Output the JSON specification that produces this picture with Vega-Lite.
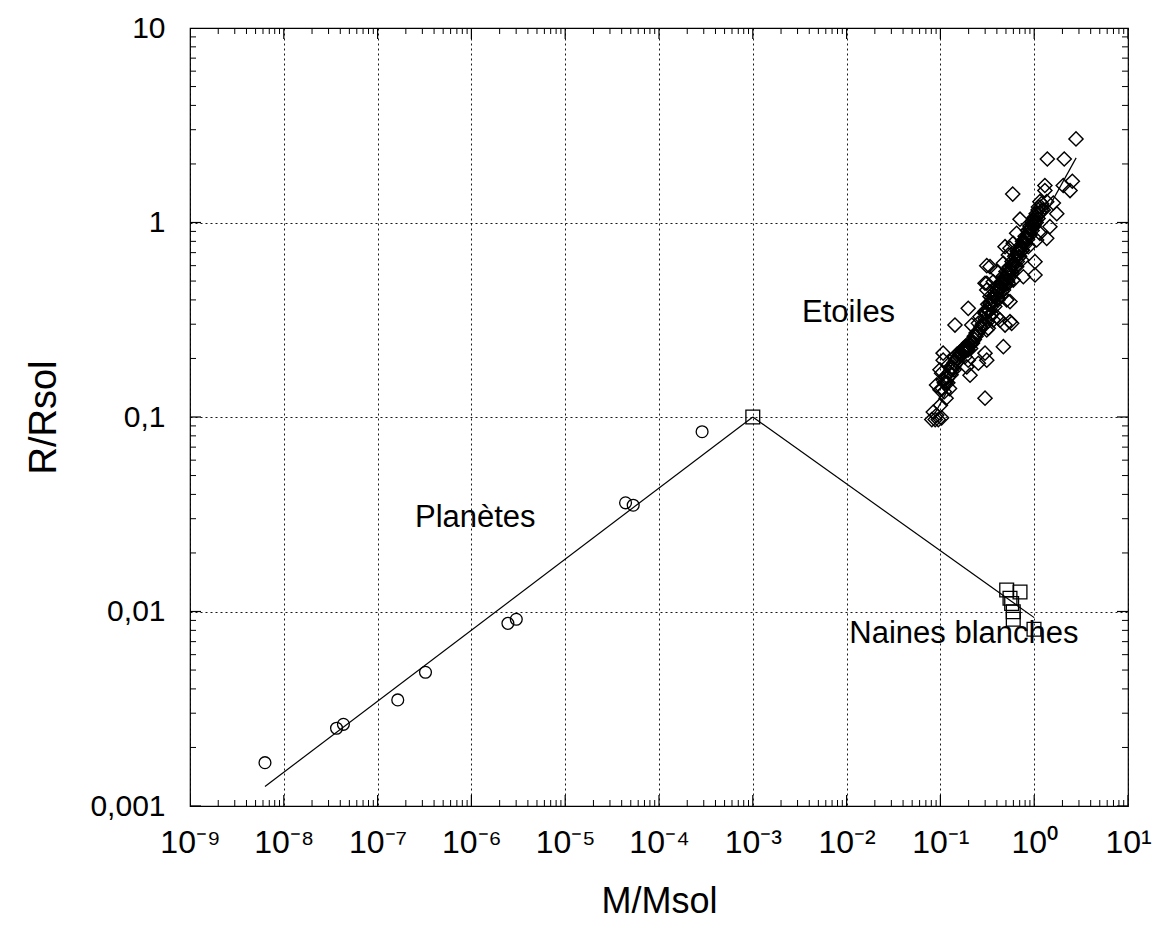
{
  "$schema": "https://vega.github.io/schema/vega-lite/v6.json",
  "width": 938,
  "height": 778,
  "autosize": {"type": "none"},
  "padding": {"left": 190, "top": 28, "right": 32, "bottom": 131},
  "background": "#ffffff",
  "config": {
    "view": {"stroke": "#000000", "strokeWidth": 1.2},
    "font": "Liberation Sans",
    "axis": {"labelFont": "Liberation Sans", "titleFont": "Liberation Sans", "labelColor": "#000", "titleColor": "#000", "tickColor": "#000", "titleFontWeight": "normal"}
  },
  "datasets": {
    "planets": [
      {"M": 6.3e-9, "R": 0.00167},
      {"M": 3.65e-8, "R": 0.00251},
      {"M": 4.32e-8, "R": 0.00263},
      {"M": 1.64e-7, "R": 0.00351},
      {"M": 3.24e-7, "R": 0.00487},
      {"M": 2.45e-6, "R": 0.00869},
      {"M": 3.01e-6, "R": 0.00912},
      {"M": 4.40e-5, "R": 0.0362},
      {"M": 5.31e-5, "R": 0.0352},
      {"M": 2.88e-4, "R": 0.0840}
    ],
    "dwarfs": [
      {"M": 0.001, "R": 0.1},
      {"M": 0.509, "R": 0.0129},
      {"M": 0.706, "R": 0.0126},
      {"M": 0.552, "R": 0.0117},
      {"M": 0.575, "R": 0.0110},
      {"M": 0.598, "R": 0.00998},
      {"M": 0.598, "R": 0.00912},
      {"M": 0.995, "R": 0.0081}
    ],
    "stars": [
      {"M": 0.084, "R": 0.106}, {"M": 0.081, "R": 0.097}, {"M": 0.095, "R": 0.097}, {"M": 0.103, "R": 0.099}, {"M": 0.091, "R": 0.102}, {"M": 0.088, "R": 0.097},
      {"M": 0.091, "R": 0.146}, {"M": 0.099, "R": 0.138}, {"M": 0.107, "R": 0.155}, {"M": 0.112, "R": 0.161}, {"M": 0.103, "R": 0.168}, {"M": 0.099, "R": 0.175},
      {"M": 0.107, "R": 0.196}, {"M": 0.107, "R": 0.213}, {"M": 0.121, "R": 0.185}, {"M": 0.132, "R": 0.181}, {"M": 0.143, "R": 0.204}, {"M": 0.162, "R": 0.208},
      {"M": 0.175, "R": 0.217}, {"M": 0.191, "R": 0.230}, {"M": 0.216, "R": 0.239}, {"M": 0.198, "R": 0.196}, {"M": 0.191, "R": 0.181}, {"M": 0.207, "R": 0.164},
      {"M": 0.254, "R": 0.189}, {"M": 0.299, "R": 0.213}, {"M": 0.312, "R": 0.196}, {"M": 0.198, "R": 0.221}, {"M": 0.183, "R": 0.204}, {"M": 0.299, "R": 0.125},
      {"M": 0.469, "R": 0.230},
      {"M": 0.143, "R": 0.297}, {"M": 0.198, "R": 0.362}, {"M": 0.216, "R": 0.297}, {"M": 0.254, "R": 0.303}, {"M": 0.264, "R": 0.328}, {"M": 0.299, "R": 0.341},
      {"M": 0.338, "R": 0.328}, {"M": 0.366, "R": 0.315}, {"M": 0.398, "R": 0.328}, {"M": 0.312, "R": 0.280}, {"M": 0.324, "R": 0.286}, {"M": 0.432, "R": 0.315},
      {"M": 0.489, "R": 0.297}, {"M": 0.575, "R": 0.303}, {"M": 0.552, "R": 0.309},
      {"M": 0.338, "R": 0.384}, {"M": 0.312, "R": 0.450}, {"M": 0.312, "R": 0.487}, {"M": 0.338, "R": 0.416}, {"M": 0.398, "R": 0.450}, {"M": 0.432, "R": 0.487},
      {"M": 0.469, "R": 0.516}, {"M": 0.530, "R": 0.487}, {"M": 0.509, "R": 0.400}, {"M": 0.552, "R": 0.392}, {"M": 1.02, "R": 0.537},
      {"M": 2.79, "R": 2.69}, {"M": 1.38, "R": 2.12}, {"M": 2.09, "R": 2.12}, {"M": 2.55, "R": 1.63}, {"M": 2.04, "R": 1.55}, {"M": 2.41, "R": 1.46},
      {"M": 0.590, "R": 1.40}, {"M": 1.30, "R": 1.55}, {"M": 1.30, "R": 1.46}, {"M": 1.15, "R": 1.28}, {"M": 1.36, "R": 1.28}, {"M": 1.60, "R": 1.26},
      {"M": 1.74, "R": 1.11}, {"M": 1.11, "R": 1.20}, {"M": 1.25, "R": 1.16}, {"M": 0.706, "R": 1.04}, {"M": 1.47, "R": 0.952}, {"M": 1.36, "R": 0.829},
      {"M": 0.978, "R": 1.03}, {"M": 0.902, "R": 0.915}, {"M": 0.832, "R": 0.845}, {"M": 0.650, "R": 0.880}, {"M": 0.598, "R": 0.782}, {"M": 0.552, "R": 0.737},
      {"M": 0.530, "R": 0.681}, {"M": 0.489, "R": 0.751}, {"M": 0.706, "R": 0.737}, {"M": 0.865, "R": 0.751}, {"M": 1.06, "R": 0.813}, {"M": 1.15, "R": 0.880},
      {"M": 1.02, "R": 0.629},
      {"M": 0.312, "R": 0.600}, {"M": 0.338, "R": 0.593}, {"M": 0.398, "R": 0.559}, {"M": 0.469, "R": 0.617}, {"M": 0.650, "R": 0.593}, {"M": 0.736, "R": 0.642},
      {"M": 0.299, "R": 0.487}, {"M": 0.366, "R": 0.496}, {"M": 0.469, "R": 0.487}, {"M": 0.598, "R": 0.506}, {"M": 0.766, "R": 0.526},
      {"M": 0.15, "R": 0.20}, {"M": 0.16, "R": 0.21}, {"M": 0.17, "R": 0.22}, {"M": 0.18, "R": 0.215}, {"M": 0.19, "R": 0.225}, {"M": 0.20, "R": 0.23},
      {"M": 0.21, "R": 0.225}, {"M": 0.22, "R": 0.245}, {"M": 0.23, "R": 0.25}, {"M": 0.24, "R": 0.26}, {"M": 0.26, "R": 0.28}, {"M": 0.28, "R": 0.30},
      {"M": 0.30, "R": 0.32}, {"M": 0.31, "R": 0.34}, {"M": 0.32, "R": 0.36}, {"M": 0.33, "R": 0.35}, {"M": 0.34, "R": 0.38}, {"M": 0.35, "R": 0.37},
      {"M": 0.36, "R": 0.40}, {"M": 0.37, "R": 0.39}, {"M": 0.38, "R": 0.42}, {"M": 0.40, "R": 0.43}, {"M": 0.41, "R": 0.41}, {"M": 0.42, "R": 0.45},
      {"M": 0.44, "R": 0.46}, {"M": 0.45, "R": 0.44}, {"M": 0.46, "R": 0.49}, {"M": 0.48, "R": 0.50}, {"M": 0.50, "R": 0.52}, {"M": 0.52, "R": 0.50},
      {"M": 0.53, "R": 0.55}, {"M": 0.55, "R": 0.57}, {"M": 0.57, "R": 0.56}, {"M": 0.58, "R": 0.60}, {"M": 0.60, "R": 0.62}, {"M": 0.62, "R": 0.61},
      {"M": 0.64, "R": 0.66}, {"M": 0.66, "R": 0.68}, {"M": 0.68, "R": 0.66}, {"M": 0.70, "R": 0.72}, {"M": 0.72, "R": 0.74}, {"M": 0.74, "R": 0.72},
      {"M": 0.76, "R": 0.78}, {"M": 0.78, "R": 0.80}, {"M": 0.80, "R": 0.79}, {"M": 0.82, "R": 0.84}, {"M": 0.85, "R": 0.86}, {"M": 0.88, "R": 0.88},
      {"M": 0.90, "R": 0.92}, {"M": 0.93, "R": 0.94}, {"M": 0.96, "R": 0.97}, {"M": 1.00, "R": 1.00}, {"M": 1.03, "R": 1.02}, {"M": 1.06, "R": 1.07},
      {"M": 1.10, "R": 1.10}, {"M": 1.14, "R": 1.12}, {"M": 1.18, "R": 1.20}, {"M": 0.11, "R": 0.135}, {"M": 0.12, "R": 0.15}, {"M": 0.13, "R": 0.165},
      {"M": 0.14, "R": 0.175}, {"M": 0.115, "R": 0.125}, {"M": 0.125, "R": 0.14}, {"M": 0.10, "R": 0.115},
      {"M": 0.105, "R": 0.14}, {"M": 0.11, "R": 0.15}, {"M": 0.115, "R": 0.15}, {"M": 0.12, "R": 0.16}, {"M": 0.125, "R": 0.17}, {"M": 0.13, "R": 0.175},
      {"M": 0.135, "R": 0.18}, {"M": 0.14, "R": 0.19}, {"M": 0.145, "R": 0.195}, {"M": 0.15, "R": 0.21}, {"M": 0.155, "R": 0.205}, {"M": 0.16, "R": 0.215},
      {"M": 0.165, "R": 0.21}, {"M": 0.17, "R": 0.21}, {"M": 0.175, "R": 0.225}, {"M": 0.18, "R": 0.22}, {"M": 0.185, "R": 0.23}, {"M": 0.19, "R": 0.22},
      {"M": 0.20, "R": 0.24}, {"M": 0.21, "R": 0.235}, {"M": 0.22, "R": 0.24}, {"M": 0.23, "R": 0.26}, {"M": 0.24, "R": 0.27}, {"M": 0.25, "R": 0.27},
      {"M": 0.27, "R": 0.29},
      {"M": 0.30, "R": 0.30}, {"M": 0.30, "R": 0.35}, {"M": 0.32, "R": 0.31}, {"M": 0.32, "R": 0.38}, {"M": 0.35, "R": 0.34}, {"M": 0.35, "R": 0.41},
      {"M": 0.38, "R": 0.37}, {"M": 0.38, "R": 0.44}, {"M": 0.41, "R": 0.40}, {"M": 0.41, "R": 0.47}, {"M": 0.44, "R": 0.42}, {"M": 0.44, "R": 0.49},
      {"M": 0.47, "R": 0.45}, {"M": 0.47, "R": 0.53}, {"M": 0.50, "R": 0.48}, {"M": 0.50, "R": 0.56}, {"M": 0.54, "R": 0.52}, {"M": 0.54, "R": 0.59},
      {"M": 0.58, "R": 0.55}, {"M": 0.58, "R": 0.63}, {"M": 0.62, "R": 0.59}, {"M": 0.62, "R": 0.67}, {"M": 0.66, "R": 0.63}, {"M": 0.66, "R": 0.71},
      {"M": 0.70, "R": 0.67}, {"M": 0.70, "R": 0.75}, {"M": 0.75, "R": 0.72}, {"M": 0.75, "R": 0.80}, {"M": 0.80, "R": 0.77}, {"M": 0.80, "R": 0.85},
      {"M": 0.85, "R": 0.82}, {"M": 0.85, "R": 0.91}, {"M": 0.90, "R": 0.86}, {"M": 0.90, "R": 0.96}, {"M": 0.95, "R": 0.91}, {"M": 0.95, "R": 1.01},
      {"M": 1.00, "R": 0.96}, {"M": 1.00, "R": 1.06}, {"M": 1.05, "R": 1.00}, {"M": 1.05, "R": 1.11}, {"M": 1.10, "R": 1.05}, {"M": 1.10, "R": 1.16},
      {"M": 1.20, "R": 1.15}, {"M": 1.20, "R": 1.25}
    ],
    "fits": [
      {"seg": "planetes", "o": 1, "M": 6.3e-9, "R": 0.00126},
      {"seg": "planetes", "o": 2, "M": 0.001, "R": 0.1},
      {"seg": "naines", "o": 1, "M": 0.001, "R": 0.1},
      {"seg": "naines", "o": 2, "M": 1.0, "R": 0.0093},
      {"seg": "etoiles", "o": 1, "M": 0.088, "R": 0.105},
      {"seg": "etoiles", "o": 2, "M": 2.8, "R": 2.15}
    ],
    "labels": [
      {"t": "Etoiles", "M": 0.0105, "R": 0.343},
      {"t": "Planètes", "M": 1.1e-6, "R": 0.0303},
      {"t": "Naines blanches", "M": 0.178, "R": 0.00766}
    ],
    "xmajor": [
      {"M": 1e-9}, {"M": 1e-8}, {"M": 1e-7}, {"M": 1e-6}, {"M": 1e-5}, {"M": 1e-4}, {"M": 1e-3}, {"M": 1e-2}, {"M": 1e-1}, {"M": 1}, {"M": 10}
    ],
    "xminor": [
      {"M": 2e-9}, {"M": 3e-9}, {"M": 4e-9}, {"M": 5e-9}, {"M": 6e-9}, {"M": 7e-9}, {"M": 8e-9}, {"M": 9e-9},
      {"M": 2e-8}, {"M": 3e-8}, {"M": 4e-8}, {"M": 5e-8}, {"M": 6e-8}, {"M": 7e-8}, {"M": 8e-8}, {"M": 9e-8},
      {"M": 2e-7}, {"M": 3e-7}, {"M": 4e-7}, {"M": 5e-7}, {"M": 6e-7}, {"M": 7e-7}, {"M": 8e-7}, {"M": 9e-7},
      {"M": 2e-6}, {"M": 3e-6}, {"M": 4e-6}, {"M": 5e-6}, {"M": 6e-6}, {"M": 7e-6}, {"M": 8e-6}, {"M": 9e-6},
      {"M": 2e-5}, {"M": 3e-5}, {"M": 4e-5}, {"M": 5e-5}, {"M": 6e-5}, {"M": 7e-5}, {"M": 8e-5}, {"M": 9e-5},
      {"M": 2e-4}, {"M": 3e-4}, {"M": 4e-4}, {"M": 5e-4}, {"M": 6e-4}, {"M": 7e-4}, {"M": 8e-4}, {"M": 9e-4},
      {"M": 2e-3}, {"M": 3e-3}, {"M": 4e-3}, {"M": 5e-3}, {"M": 6e-3}, {"M": 7e-3}, {"M": 8e-3}, {"M": 9e-3},
      {"M": 2e-2}, {"M": 3e-2}, {"M": 4e-2}, {"M": 5e-2}, {"M": 6e-2}, {"M": 7e-2}, {"M": 8e-2}, {"M": 9e-2},
      {"M": 0.2}, {"M": 0.3}, {"M": 0.4}, {"M": 0.5}, {"M": 0.6}, {"M": 0.7}, {"M": 0.8}, {"M": 0.9},
      {"M": 2}, {"M": 3}, {"M": 4}, {"M": 5}, {"M": 6}, {"M": 7}, {"M": 8}, {"M": 9}
    ],
    "ymajor": [
      {"R": 0.001}, {"R": 0.01}, {"R": 0.1}, {"R": 1}, {"R": 10}
    ],
    "yminor": [
      {"R": 0.002}, {"R": 0.003}, {"R": 0.004}, {"R": 0.005}, {"R": 0.006}, {"R": 0.007}, {"R": 0.008}, {"R": 0.009},
      {"R": 0.02}, {"R": 0.03}, {"R": 0.04}, {"R": 0.05}, {"R": 0.06}, {"R": 0.07}, {"R": 0.08}, {"R": 0.09},
      {"R": 0.2}, {"R": 0.3}, {"R": 0.4}, {"R": 0.5}, {"R": 0.6}, {"R": 0.7}, {"R": 0.8}, {"R": 0.9},
      {"R": 2}, {"R": 3}, {"R": 4}, {"R": 5}, {"R": 6}, {"R": 7}, {"R": 8}, {"R": 9}
    ]
  },
  "layer": [
    {
      "data": {"name": "planets"},
      "mark": {"type": "point", "shape": "circle", "filled": false, "stroke": "#000", "strokeWidth": 1.3, "size": 140, "opacity": 1},
      "encoding": {
        "x": {"field": "M", "type": "quantitative",
          "scale": {"type": "log", "domain": [1e-9, 10], "nice": false},
          "axis": {"orient": "bottom", "values": [1e-9, 1e-8, 1e-7, 1e-6, 1e-5, 1e-4, 1e-3, 1e-2, 1e-1, 1, 10],
            "labelExpr": "'10' + (round(log(datum.value)/LN10) < 0 ? '⁻' : '') + substring('⁰¹²³⁴⁵⁶⁷⁸⁹', abs(round(log(datum.value)/LN10)), abs(round(log(datum.value)/LN10)) + 1)",
            "ticks": false, "domain": false, "grid": true, "gridColor": "#000", "gridDash": [2, 3], "gridWidth": 1, "gridOpacity": 0.9,
            "labelFontSize": 32, "labelPadding": 21, "labelFlush": false, "labelOverlap": false,
            "title": "M/Msol", "titleFontSize": 36, "titlePadding": 26}},
        "y": {"field": "R", "type": "quantitative",
          "scale": {"type": "log", "domain": [0.001, 10], "nice": false},
          "axis": {"orient": "left", "values": [0.001, 0.01, 0.1, 1, 10],
            "labelExpr": "replace(toString(datum.value), '.', ',')",
            "ticks": false, "domain": false, "grid": true, "gridColor": "#000", "gridDash": [2, 3], "gridWidth": 1, "gridOpacity": 0.9,
            "labelFontSize": 30, "labelPadding": 25, "labelFlush": false, "labelOverlap": false,
            "title": "R/Rsol", "titleFontSize": 38, "titlePadding": 26}}
      }
    },
    {
      "data": {"name": "xmajor"},
      "mark": {"type": "tick", "orient": "vertical", "size": 22, "thickness": 1.2, "color": "#000", "opacity": 1, "clip": true},
      "encoding": {"x": {"field": "M", "type": "quantitative"}, "y": {"datum": 0.001, "type": "quantitative"}}
    },
    {
      "data": {"name": "xmajor"},
      "mark": {"type": "tick", "orient": "vertical", "size": 22, "thickness": 1.2, "color": "#000", "opacity": 1, "clip": true},
      "encoding": {"x": {"field": "M", "type": "quantitative"}, "y": {"datum": 10, "type": "quantitative"}}
    },
    {
      "data": {"name": "xminor"},
      "mark": {"type": "tick", "orient": "vertical", "size": 12, "thickness": 1, "color": "#000", "opacity": 1, "clip": true},
      "encoding": {"x": {"field": "M", "type": "quantitative"}, "y": {"datum": 0.001, "type": "quantitative"}}
    },
    {
      "data": {"name": "xminor"},
      "mark": {"type": "tick", "orient": "vertical", "size": 12, "thickness": 1, "color": "#000", "opacity": 1, "clip": true},
      "encoding": {"x": {"field": "M", "type": "quantitative"}, "y": {"datum": 10, "type": "quantitative"}}
    },
    {
      "data": {"name": "ymajor"},
      "mark": {"type": "tick", "orient": "horizontal", "size": 22, "thickness": 1.2, "color": "#000", "opacity": 1, "clip": true},
      "encoding": {"y": {"field": "R", "type": "quantitative"}, "x": {"datum": 1e-9, "type": "quantitative"}}
    },
    {
      "data": {"name": "ymajor"},
      "mark": {"type": "tick", "orient": "horizontal", "size": 22, "thickness": 1.2, "color": "#000", "opacity": 1, "clip": true},
      "encoding": {"y": {"field": "R", "type": "quantitative"}, "x": {"datum": 10, "type": "quantitative"}}
    },
    {
      "data": {"name": "yminor"},
      "mark": {"type": "tick", "orient": "horizontal", "size": 12, "thickness": 1, "color": "#000", "opacity": 1, "clip": true},
      "encoding": {"y": {"field": "R", "type": "quantitative"}, "x": {"datum": 1e-9, "type": "quantitative"}}
    },
    {
      "data": {"name": "yminor"},
      "mark": {"type": "tick", "orient": "horizontal", "size": 12, "thickness": 1, "color": "#000", "opacity": 1, "clip": true},
      "encoding": {"y": {"field": "R", "type": "quantitative"}, "x": {"datum": 10, "type": "quantitative"}}
    },
    {
      "data": {"name": "dwarfs"},
      "mark": {"type": "point", "shape": "square", "filled": false, "stroke": "#000", "strokeWidth": 1.3, "size": 190, "opacity": 1},
      "encoding": {
        "x": {"field": "M", "type": "quantitative"},
        "y": {"field": "R", "type": "quantitative"}
      }
    },
    {
      "data": {"name": "stars"},
      "mark": {"type": "point", "shape": "diamond", "filled": false, "stroke": "#000", "strokeWidth": 1.45, "size": 200, "opacity": 1},
      "encoding": {
        "x": {"field": "M", "type": "quantitative"},
        "y": {"field": "R", "type": "quantitative"}
      }
    },
    {
      "data": {"name": "fits"},
      "mark": {"type": "line", "color": "#000", "strokeWidth": 1.2},
      "encoding": {
        "x": {"field": "M", "type": "quantitative"},
        "y": {"field": "R", "type": "quantitative"},
        "detail": {"field": "seg", "type": "nominal"},
        "order": {"field": "o", "type": "quantitative"}
      }
    },
    {
      "data": {"name": "labels"},
      "mark": {"type": "text", "font": "Liberation Sans", "fontSize": 31, "align": "center", "baseline": "middle", "color": "#000"},
      "encoding": {
        "x": {"field": "M", "type": "quantitative"},
        "y": {"field": "R", "type": "quantitative"},
        "text": {"field": "t", "type": "nominal"}
      }
    }
  ]
}
